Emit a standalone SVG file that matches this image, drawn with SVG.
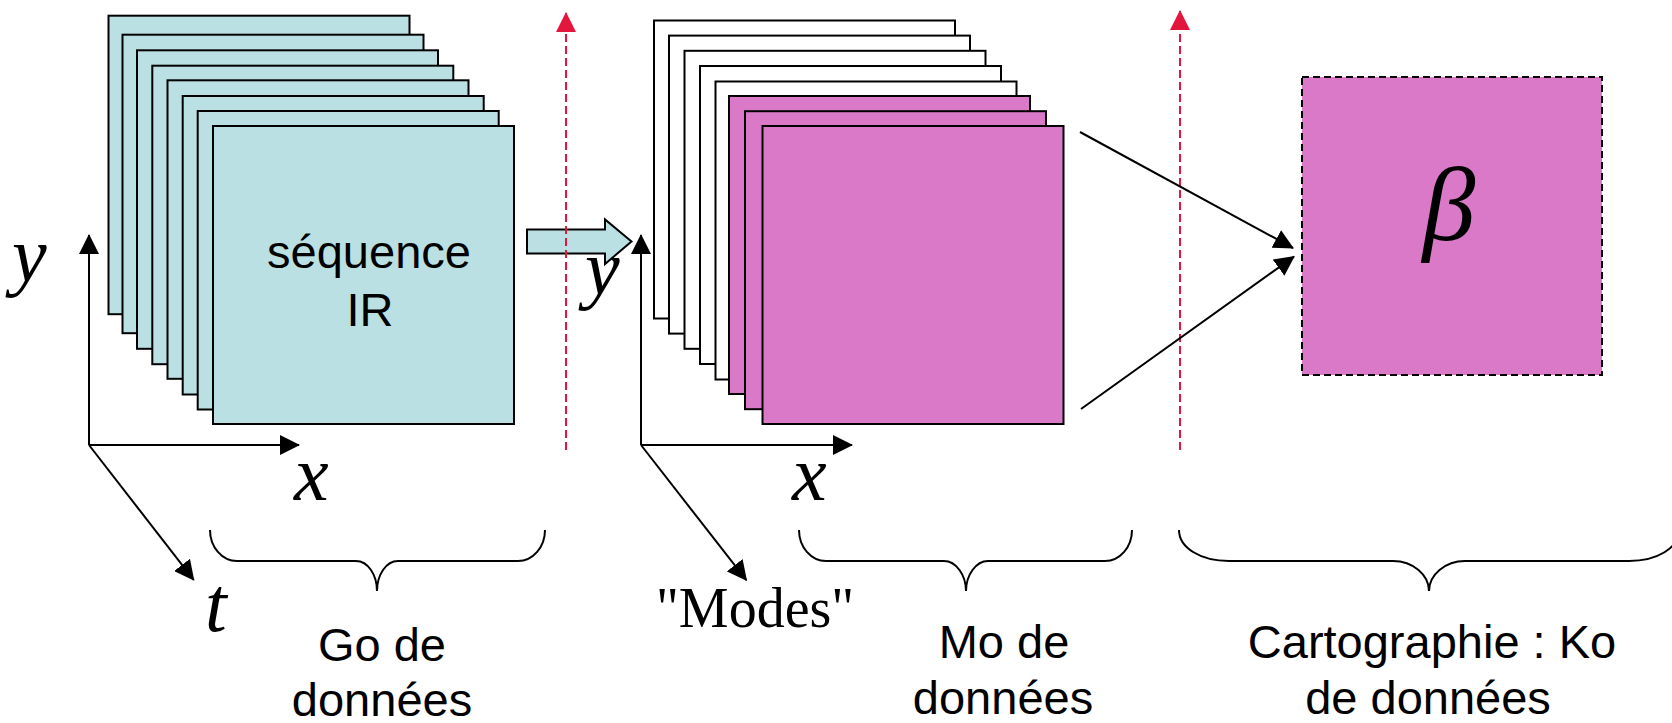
<svg xmlns="http://www.w3.org/2000/svg" width="1672" height="723" viewBox="0 0 1672 723">
  <defs>
    <style>
      .fc { fill: #BBE0E3; stroke: #000; stroke-width: 2; }
      .fw { fill: #FFFFFF; stroke: #000; stroke-width: 2; }
      .fp { fill: #DB79C9; stroke: #000; stroke-width: 2; }
      .lbl { font-family: "Liberation Sans", Arial, sans-serif; font-size: 47px; fill: #000; text-anchor: middle; }
      .var { font-family: "Liberation Serif", "Times New Roman", serif; font-style: italic; font-size: 78px; fill: #000; }
      .axis { stroke: #000; stroke-width: 2; fill: none; marker-end: url(#ah); }
      .brace { fill: none; stroke: #000; stroke-width: 2; }
      .sep { stroke: #E3163E; stroke-width: 2; stroke-dasharray: 8 4; fill: none; marker-end: url(#ahr); }
    </style>
    <marker id="ah" viewBox="0 0 20 20" refX="19" refY="10" markerWidth="20" markerHeight="20" markerUnits="userSpaceOnUse" orient="auto">
      <path d="M0,0 L20,10 L0,20 Z" fill="#000"/>
    </marker>
    <marker id="ahr" viewBox="0 0 20 20" refX="19" refY="10" markerWidth="20" markerHeight="20" markerUnits="userSpaceOnUse" orient="auto">
      <path d="M0,0 L20,10 L0,20 Z" fill="#E3163E"/>
    </marker>
  </defs>

  <rect width="1672" height="723" fill="#FFFFFF"/>

  <!-- IR image sequence: stacked frames -->
  <g id="ir-stack">
    <rect class="fc" x="108.5" y="15.7" width="301" height="298.5"/>
    <rect class="fc" x="122.5" y="34.7" width="301" height="298.5"/>
    <rect class="fc" x="137" y="50.3" width="301" height="298.5"/>
    <rect class="fc" x="152.3" y="65.7" width="301" height="298.5"/>
    <rect class="fc" x="167.5" y="80.3" width="301" height="298.5"/>
    <rect class="fc" x="182.7" y="96" width="301" height="298.5"/>
    <rect class="fc" x="197.7" y="111" width="301" height="298.5"/>
    <rect class="fc" x="213" y="126" width="301" height="298"/>
    <text class="lbl" x="369" y="268" font-size="48">séquence</text>
    <text class="lbl" x="370" y="326" font-size="48">IR</text>
  </g>

  <!-- Modes stack: white frames behind, retained modes in pink -->
  <g id="modes-stack">
    <rect class="fw" x="654" y="20.5" width="301" height="298"/>
    <rect class="fw" x="669" y="35.6" width="301" height="298"/>
    <rect class="fw" x="684.5" y="50.8" width="301" height="298"/>
    <rect class="fw" x="700" y="66" width="301" height="298"/>
    <rect class="fw" x="715.5" y="81.5" width="301" height="298"/>
    <rect class="fp" x="729" y="96" width="301" height="298"/>
    <rect class="fp" x="745" y="111.2" width="301" height="298"/>
    <rect class="fp" x="762.5" y="126" width="301" height="298"/>
  </g>

  <!-- Parameter map -->
  <g id="beta-map">
    <rect x="1302" y="77" width="300" height="298" fill="#DB79C9" stroke="#000" stroke-width="2" stroke-dasharray="7 4"/>
    <text x="1449" y="240" font-family="'Liberation Serif', 'Times New Roman', serif" font-style="italic" font-size="106" text-anchor="middle">β</text>
  </g>

  <!-- Axes of the IR sequence -->
  <g id="axes-ir">
    <line class="axis" x1="89" y1="445" x2="89" y2="235"/>
    <line class="axis" x1="89" y1="445" x2="299" y2="445"/>
    <line class="axis" x1="89" y1="445" x2="193.7" y2="579.9"/>
    <text class="var" x="12" y="281">y</text>
    <text class="var" x="294" y="500">x</text>
    <text class="var" x="205" y="631">t</text>
  </g>

  <!-- Axes of the modes -->
  <g id="axes-modes">
    <line class="axis" x1="641" y1="445" x2="641" y2="235"/>
    <line class="axis" x1="641" y1="445" x2="852" y2="445"/>
    <line class="axis" x1="641" y1="445" x2="746.4" y2="580.2"/>
    <text class="var" x="585" y="294">y</text>
    <text class="var" x="792" y="500">x</text>
    <text x="656" y="627" font-family="'Liberation Serif', 'Times New Roman', serif" font-size="56">"Modes"</text>
  </g>

  <!-- Connectors -->
  <g id="connectors">
    <polygon points="527,229.5 605,229.5 605,219.5 631.5,241.5 605,264 605,253.5 527,253.5" fill="#BBE0E3" stroke="#000" stroke-width="2" stroke-linejoin="miter"/>
    <line class="sep" x1="566" y1="450" x2="566" y2="13"/>
    <line class="sep" x1="1180" y1="450" x2="1180" y2="11"/>
    <line class="axis" x1="1080" y1="132" x2="1293" y2="248"/>
    <line class="axis" x1="1081" y1="409" x2="1294" y2="256.6"/>
  </g>

  <!-- Data volume annotations -->
  <g id="brace-go">
    <path class="brace" d="M210,530 C210,547 222,561 237,561 L356,561 C368,561 377,575 377,591 C377,575 386,561 398,561 L518,561 C533,561 545,547 545,530"/>
    <text class="lbl" x="382" y="661">Go de</text>
    <text class="lbl" x="382" y="716">données</text>
  </g>
  <g id="brace-mo">
    <path class="brace" d="M799,530 C799,547 811,561 826,561 L944,561 C956,561 966,575 966,591 C966,575 976,561 988,561 L1105,561 C1120,561 1132,547 1132,530"/>
    <text class="lbl" x="1004" y="658">Mo de</text>
    <text class="lbl" x="1003" y="714">données</text>
  </g>
  <g id="brace-ko">
    <path class="brace" d="M1179,530 C1179,548 1201,561 1229,561 L1393,561 C1413,561 1429,575 1429,591 C1429,575 1445,561 1465,561 L1629,561 C1657,561 1679,548 1679,530"/>
    <text class="lbl" x="1432" y="658">Cartographie : Ko</text>
    <text class="lbl" x="1428" y="714">de données</text>
  </g>
</svg>
